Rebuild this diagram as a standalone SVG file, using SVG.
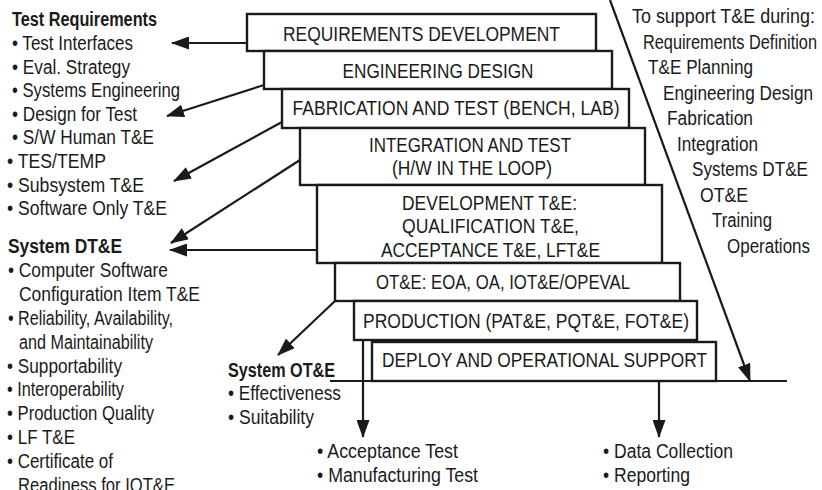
<svg xmlns="http://www.w3.org/2000/svg" width="822" height="490" viewBox="0 0 822 490">
<style>
text{font-family:"Liberation Sans",Arial,Helvetica,sans-serif;font-size:20px;fill:#1a1a1a}
.b{font-weight:bold}
.m{text-anchor:middle}
.box{fill:#fff;stroke:#1a1a1a;stroke-width:2.4}
.c{fill:none;stroke:#1a1a1a;stroke-width:2.2}
</style>
<defs>
<marker id="ah" viewBox="0 0 18 13" refX="17" refY="6.5" markerWidth="18" markerHeight="13" markerUnits="userSpaceOnUse" orient="auto">
<path d="M0,0 L18,6.5 L0,13 z" fill="#1a1a1a"/>
</marker>
</defs>
<rect width="822" height="490" fill="#fff"/>

<g id="connectors">
<line class="c" x1="247" y1="43" x2="172" y2="43" marker-end="url(#ah)"/>
<line class="c" x1="264" y1="85" x2="167" y2="116" marker-end="url(#ah)"/>
<line class="c" x1="282" y1="122" x2="174" y2="181" marker-end="url(#ah)"/>
<line class="c" x1="300" y1="160" x2="171" y2="243" marker-end="url(#ah)"/>
<line class="c" x1="317" y1="250" x2="170" y2="250" marker-end="url(#ah)"/>
<line class="c" x1="335" y1="301" x2="278" y2="355" marker-end="url(#ah)"/>
<line class="c" x1="363" y1="340" x2="363" y2="437" marker-end="url(#ah)"/>
<line class="c" x1="659" y1="381" x2="659" y2="437" marker-end="url(#ah)"/>
<line class="c" x1="610" y1="0" x2="750" y2="381" marker-end="url(#ah)"/>
<line class="c" x1="330" y1="381" x2="787" y2="381"/>
</g>

<g id="n1"><rect class="box" x="247" y="14" width="349" height="37"/>
<text class="m" x="421.5" y="41" textLength="277" lengthAdjust="spacingAndGlyphs">REQUIREMENTS DEVELOPMENT</text></g>
<g id="n2"><rect class="box" x="264" y="51" width="348" height="38"/>
<text class="m" x="438" y="78" textLength="191" lengthAdjust="spacingAndGlyphs">ENGINEERING DESIGN</text></g>
<g id="n3"><rect class="box" x="282" y="89" width="347" height="39"/>
<text class="m" x="456" y="115" textLength="327" lengthAdjust="spacingAndGlyphs">FABRICATION AND TEST (BENCH, LAB)</text></g>
<g id="n4"><rect class="box" x="300" y="128" width="345" height="57"/>
<text class="m" x="470" y="152" textLength="202" lengthAdjust="spacingAndGlyphs">INTEGRATION AND TEST</text>
<text class="m" x="472" y="175" textLength="160" lengthAdjust="spacingAndGlyphs">(H/W IN THE LOOP)</text></g>
<g id="n5"><rect class="box" x="317" y="185" width="345" height="78"/>
<text class="m" x="489.5" y="210" textLength="175" lengthAdjust="spacingAndGlyphs">DEVELOPMENT T&amp;E:</text>
<text class="m" x="490.5" y="233" textLength="177" lengthAdjust="spacingAndGlyphs">QUALIFICATION T&amp;E,</text>
<text class="m" x="490.5" y="257" textLength="219" lengthAdjust="spacingAndGlyphs">ACCEPTANCE T&amp;E, LFT&amp;E</text></g>
<g id="n6"><rect class="box" x="335" y="263" width="345" height="38"/>
<text class="m" x="503" y="289" textLength="254" lengthAdjust="spacingAndGlyphs">OT&amp;E: EOA, OA, IOT&amp;E/OPEVAL</text></g>
<g id="n7"><rect class="box" x="354" y="301" width="343" height="39"/>
<text class="m" x="526" y="328" textLength="326" lengthAdjust="spacingAndGlyphs">PRODUCTION (PAT&amp;E, PQT&amp;E, FOT&amp;E)</text></g>
<g id="n8"><rect class="box" x="372" y="342" width="344" height="39"/>
<text class="m" x="544.5" y="367" textLength="325" lengthAdjust="spacingAndGlyphs">DEPLOY AND OPERATIONAL SUPPORT</text></g>

<g id="test-requirements">
<text class="b" x="12" y="26" textLength="145" lengthAdjust="spacingAndGlyphs">Test Requirements</text>
<text x="12" y="50" textLength="121" lengthAdjust="spacingAndGlyphs">• Test Interfaces</text>
<text x="12" y="73.6" textLength="118" lengthAdjust="spacingAndGlyphs">• Eval. Strategy</text>
<text x="12" y="97.2" textLength="168" lengthAdjust="spacingAndGlyphs">• Systems Engineering</text>
<text x="12" y="120.8" textLength="125" lengthAdjust="spacingAndGlyphs">• Design for Test</text>
<text x="12" y="144.4" textLength="142" lengthAdjust="spacingAndGlyphs">• S/W Human T&amp;E</text>
<text x="7" y="168" textLength="99" lengthAdjust="spacingAndGlyphs">• TES/TEMP</text>
<text x="7" y="191.6" textLength="137" lengthAdjust="spacingAndGlyphs">• Subsystem T&amp;E</text>
<text x="7" y="215.2" textLength="160" lengthAdjust="spacingAndGlyphs">• Software Only T&amp;E</text>
</g>

<g id="system-dte">
<text class="b" x="8" y="253" textLength="114" lengthAdjust="spacingAndGlyphs">System DT&amp;E</text>
<text x="8" y="276.9" textLength="160" lengthAdjust="spacingAndGlyphs">• Computer Software</text>
<text x="19" y="300.8" textLength="181" lengthAdjust="spacingAndGlyphs">Configuration Item T&amp;E</text>
<text x="8" y="324.7" textLength="165" lengthAdjust="spacingAndGlyphs">• Reliability, Availability,</text>
<text x="19" y="348.6" textLength="134" lengthAdjust="spacingAndGlyphs">and Maintainability</text>
<text x="7" y="372.5" textLength="115" lengthAdjust="spacingAndGlyphs">• Supportability</text>
<text x="7" y="396.4" textLength="117" lengthAdjust="spacingAndGlyphs">• Interoperability</text>
<text x="7" y="420.3" textLength="147" lengthAdjust="spacingAndGlyphs">• Production Quality</text>
<text x="7" y="444.2" textLength="68" lengthAdjust="spacingAndGlyphs">• LF T&amp;E</text>
<text x="7" y="468.1" textLength="106" lengthAdjust="spacingAndGlyphs">• Certificate of</text>
<text x="18" y="492" textLength="157" lengthAdjust="spacingAndGlyphs">Readiness for IOT&amp;E</text>
</g>

<g id="system-ote">
<text class="b" x="228" y="377" textLength="107" lengthAdjust="spacingAndGlyphs">System OT&amp;E</text>
<text x="228" y="400" textLength="113" lengthAdjust="spacingAndGlyphs">• Effectiveness</text>
<text x="228" y="424" textLength="86" lengthAdjust="spacingAndGlyphs">• Suitability</text>
</g>

<g id="production-tests">
<text x="317" y="458" textLength="141" lengthAdjust="spacingAndGlyphs">• Acceptance Test</text>
<text x="317" y="482" textLength="161" lengthAdjust="spacingAndGlyphs">• Manufacturing Test</text>
</g>

<g id="support-tests">
<text x="603" y="458" textLength="130" lengthAdjust="spacingAndGlyphs">• Data Collection</text>
<text x="603" y="482" textLength="87" lengthAdjust="spacingAndGlyphs">• Reporting</text>
</g>

<g id="support-list">
<text x="632" y="23" textLength="183" lengthAdjust="spacingAndGlyphs">To support T&amp;E during:</text>
<text x="643" y="48.5" textLength="174" lengthAdjust="spacingAndGlyphs">Requirements Definition</text>
<text x="648" y="74" textLength="105" lengthAdjust="spacingAndGlyphs">T&amp;E Planning</text>
<text x="663" y="99.5" textLength="150" lengthAdjust="spacingAndGlyphs">Engineering Design</text>
<text x="667" y="125" textLength="86" lengthAdjust="spacingAndGlyphs">Fabrication</text>
<text x="677" y="150.5" textLength="81" lengthAdjust="spacingAndGlyphs">Integration</text>
<text x="692" y="176" textLength="116" lengthAdjust="spacingAndGlyphs">Systems DT&amp;E</text>
<text x="700" y="201.5" textLength="48" lengthAdjust="spacingAndGlyphs">OT&amp;E</text>
<text x="712" y="227" textLength="60" lengthAdjust="spacingAndGlyphs">Training</text>
<text x="727" y="252.5" textLength="83" lengthAdjust="spacingAndGlyphs">Operations</text>
</g>
</svg>
